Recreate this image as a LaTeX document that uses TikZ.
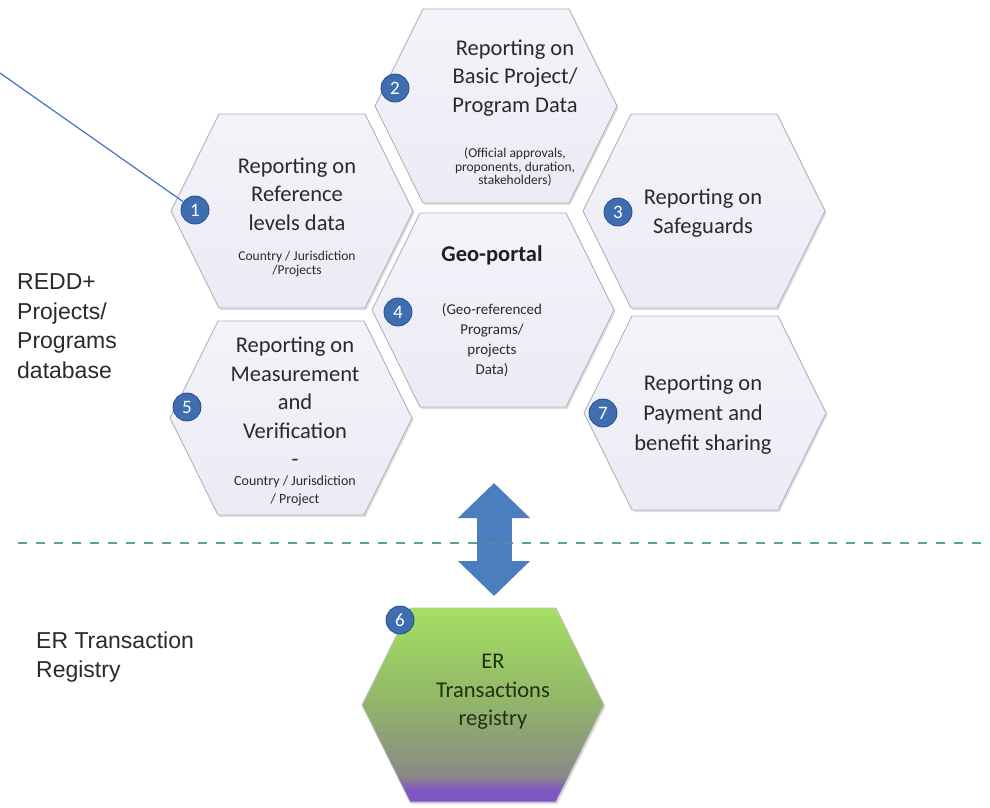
\documentclass[tikz,border=0pt]{standalone}
\usepackage{fontspec}
\setmainfont{Carlito}
\newfontfamily\labelfont{Liberation Sans}
\usetikzlibrary{calc,shadows,arrows.meta}
\tikzset {>=Stealth}
\definecolor{hexfill}{RGB}{236,235,245}
\definecolor{hexedge}{RGB}{178,178,190}
\definecolor{badgeblue}{RGB}{62,110,176}
\definecolor{badgeedge}{RGB}{38,78,138}
\definecolor{leaderblue}{RGB}{68,114,196}
\definecolor{linkblue}{RGB}{74,126,190}
\definecolor{dashgreen}{RGB}{88,170,125}
\definecolor{ergreen}{RGB}{165,224,98}
\definecolor{ermid}{RGB}{146,184,104}
\definecolor{ergray}{RGB}{138,138,132}
\definecolor{erpurple}{RGB}{128,86,192}
\definecolor{ertext}{RGB}{34,48,20}
\definecolor{textgray}{RGB}{42,42,42}
\pgfdeclareverticalshading{ershade}{100bp}{color(0bp)=(erpurple); color(25bp)=(erpurple); color(28bp)=(erpurple); color(32bp)=(ergray); color(52bp)=(ermid); color(75bp)=(ergreen); color(100bp)=(ergreen)}
\tikzset{
  hexcell/.style={draw=hexedge,line width=.9pt,top color=hexfill!60!white,bottom color=hexfill,
    drop shadow={shadow xshift=1.5pt,shadow yshift=-2pt,opacity=.25}},
  erhex/.style={draw=hexedge!80,line width=.9pt,shading=ershade,
    drop shadow={shadow xshift=1.5pt,shadow yshift=-2pt,opacity=.25}},
  badge/.style={circle,draw=badgeedge,line width=.8pt,fill=badgeblue,text=white,
    minimum size=28pt,inner sep=0pt,font=\fontsize{19}{19}\selectfont},
  bigtext/.style={align=center,text=textgray,inner sep=0pt,font=\fontsize{22.5}{28.5}\selectfont},
  smalltext/.style={align=center,text=textgray,inner sep=0pt,font=\fontsize{13.5}{13.5}\selectfont},
  sidetext/.style={align=left,anchor=west,inner sep=0pt,text=textgray,font=\labelfont\fontsize{23}{29.5}\selectfont}
}

\begin{document}
\begin{tikzpicture}[x=1pt,y=-1pt]
\useasboundingbox (0,0) rectangle (990,807);
\coordinate (H1) at (292,211);
\coordinate (H2) at (496,106);
\coordinate (H3) at (704,211);
\coordinate (H4) at (493,310);
\coordinate (H5) at (291,418);
\coordinate (H7) at (705,413);
\coordinate (H6) at (483,705);
\foreach \h in {H1,H2,H3,H4,H5,H7}
  \draw[hexcell,shift={(\h)}] (-121,0) -- (-73,-97) -- (73,-97) -- (121,0) -- (73,97) -- (-73,97) -- cycle;
\draw[erhex,shift={(H6)}] (-121,0) -- (-73,-97) -- (73,-97) -- (121,0) -- (73,97) -- (-73,97) -- cycle;

\node[bigtext] (t1) at (297,194) {Reporting on\\Reference\\levels data};
\node[smalltext] (n1) at (297,264) {Country / Jurisdiction\\/Projects};
\node[bigtext] (t2) at (515,78) {Reporting on\\Basic Project/\\Program Data};
\node[smalltext] (n2) at (515,167) {(Official approvals,\\proponents, duration,\\stakeholders)};
\node[bigtext] (t3) at (703,213) {Reporting on\\Safeguards};
\node[bigtext,font=\bfseries\fontsize{22.5}{28.5}\selectfont,text=black!88] (t4) at (492,255) {Geo-portal};
\node[smalltext,font=\fontsize{15}{20}\selectfont] (n4) at (492,340) {(Geo-referenced\\Programs/\\projects\\Data)};
\node[bigtext] (t5) at (295,402) {Reporting on\\Measurement\\and\\Verification\\-};
\node[smalltext,font=\fontsize{14}{18}\selectfont] (n5) at (295,491) {Country / Jurisdiction\\/ Project};
\node[bigtext,font=\fontsize{22.5}{30}\selectfont] (t7) at (703,415) {Reporting on\\Payment and\\benefit sharing};
\node[bigtext,text=ertext] (t6) at (493,692) {ER\\Transactions\\registry};

\node[badge] (b1) at (195,210) {1};
\node[badge] (b2) at (395,88) {2};
\node[badge] (b3) at (618,212) {3};
\node[badge] (b4) at (398,312) {4};
\node[badge] (b5) at (187,407) {5};
\node[badge] (b7) at (603,413) {7};
\node[badge] (b6) at (400,620) {6};

\node[sidetext] (redd) at (17,326) {REDD+\\Projects/\\Programs\\database};
\node[sidetext] (registry) at (36,657) {ER Transaction\\Registry};

\coordinate (lead) at (0,73);
\draw[leaderblue,line width=1.2pt] (lead) -- (b1);

\coordinate (dashL) at (18,543);
\coordinate (dashR) at (990,543);
\draw[dashgreen,line width=2.6pt,dash pattern=on 9pt off 9pt] (dashL) -- (dashR);
\coordinate (linktop) at (494,483);
\coordinate (linkbot) at (494,596);
\draw[linkblue,line width=35pt,{Triangle[length=35pt,width=70pt]}-{Triangle[length=35pt,width=70pt]}] (linktop) -- (linkbot);
\draw[dashgreen,opacity=.35,line width=2.6pt,dash pattern=on 9pt off 9pt] (dashL) -- (dashR);
\end{tikzpicture}
\end{document}
